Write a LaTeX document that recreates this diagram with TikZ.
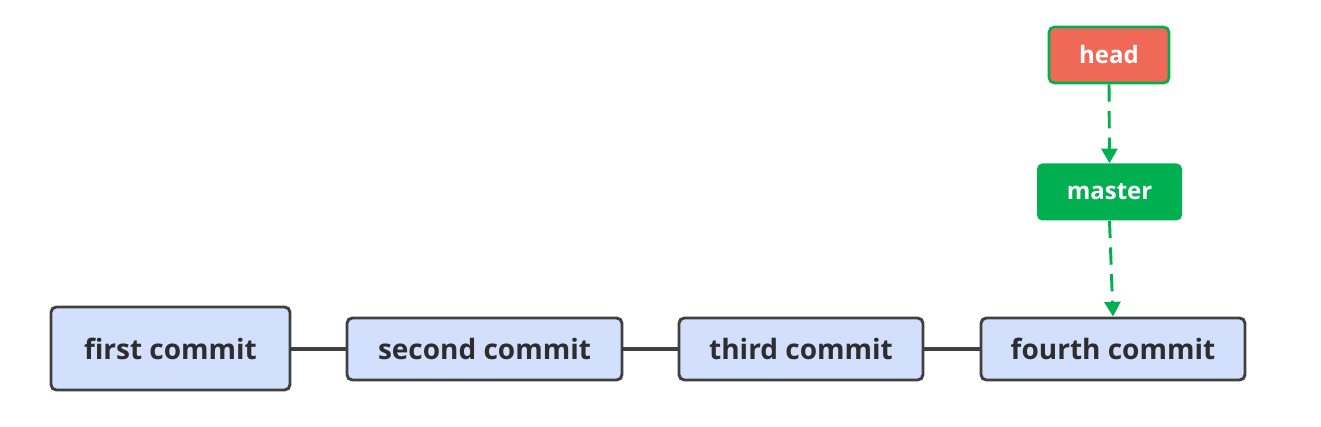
\documentclass[tikz,border=0pt]{standalone}
\usepackage{fontspec}
\setmainfont{Open Sans}
\usetikzlibrary{arrows.meta}
\definecolor{commitfill}{RGB}{211,224,253}
\definecolor{commitdraw}{RGB}{64,64,64}
\definecolor{commitText}{RGB}{45,45,45}
\definecolor{headfill}{RGB}{240,104,86}
\definecolor{gitgreen}{RGB}{0,176,80}
\begin{document}
\begin{tikzpicture}[x=0.75pt,y=-0.75pt,
  commitbox/.style={draw=commitdraw,fill=commitfill,line width=2.2pt,rounded corners=4pt,
    text=commitText,font=\bfseries\fontsize{21}{24}\selectfont,inner sep=0pt},
  headbox/.style={draw=gitgreen,fill=headfill,line width=2pt,rounded corners=4pt,
    text=white,font=\bfseries\fontsize{18}{21}\selectfont,inner sep=0pt},
  masterbox/.style={fill=gitgreen,rounded corners=4pt,
    text=white,font=\bfseries\fontsize{18}{21}\selectfont,inner sep=0pt},
  chain/.style={draw=commitdraw,line width=3pt},
  ptr/.style={draw=gitgreen,line width=2.2pt,dash pattern=on 13pt off 7pt,
    -{Triangle[length=11pt,width=12pt]}}
]
\useasboundingbox (0,0) rectangle (1321,427);
\node[commitbox,minimum width=239*0.75pt,minimum height=83*0.75pt] (c1) at (170.5,348.5) {first commit};
\node[commitbox,minimum width=275*0.75pt,minimum height=62*0.75pt] (c2) at (484.5,349) {second commit};
\node[commitbox,minimum width=244*0.75pt,minimum height=62*0.75pt] (c3) at (801,349) {third commit};
\node[commitbox,minimum width=264*0.75pt,minimum height=62*0.75pt] (c4) at (1113,349) {fourth commit};
\node[headbox,minimum width=120*0.75pt,minimum height=56*0.75pt] (head) at (1109,55) {head};
\node[masterbox,minimum width=145*0.75pt,minimum height=57*0.75pt] (master) at (1109.5,192) {master};
\draw[chain] (c1.east |- 0,349) -- (c2.west);
\draw[chain] (c2) -- (c3);
\draw[chain] (c3) -- (c4);
\draw[ptr] (head.south) -- (master.north);
\draw[ptr] (master.south) -- (c4.north);
\end{tikzpicture}
\end{document}
